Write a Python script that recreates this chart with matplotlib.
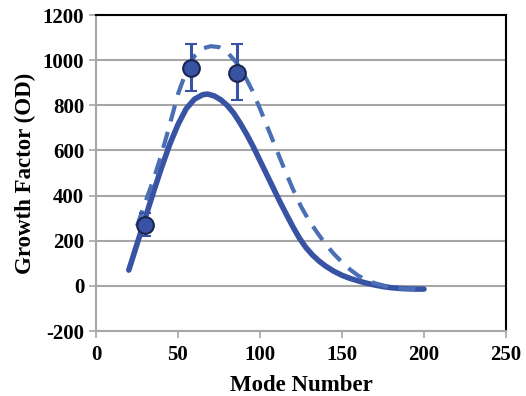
import matplotlib.pyplot as plt

# solid curve (model)
x_solid = [20, 25, 30, 35, 40, 45, 50, 55, 60, 65, 68, 72, 76, 80, 84, 88, 92, 96,
           100, 104, 108, 112, 116, 120, 124, 128, 132, 136, 140, 145, 150, 155,
           160, 165, 170, 175, 180, 185, 190, 195, 200]
y_solid = [70, 185, 300, 415, 525, 628, 715, 785, 827, 847, 850, 842, 825, 800, 765,
           720, 670, 615, 555, 495, 435, 375, 318, 263, 212, 170, 137, 110, 88, 65,
           47, 33, 22, 12, 4, -3, -8, -11, -13, -14, -14]

# dashed curve
x_dash = [25, 30, 35, 40, 45, 50, 55, 60, 65, 70, 75, 80, 85, 90, 95, 100, 105, 110,
          115, 120, 125, 130, 135, 140, 145, 150, 155, 160, 165, 170, 175, 180, 185,
          190, 200]
y_dash = [265, 370, 470, 585, 715, 850, 950, 1018, 1052, 1062, 1058, 1035, 995, 940,
          870, 785, 695, 605, 515, 430, 352, 288, 235, 185, 142, 105, 72, 45, 25, 12,
          2, -6, -11, -13, -14]

# measured points
x_pts = [30, 58, 86]
y_pts = [270, 965, 945]
err_lo = [50, 100, 120]
err_hi = [55, 105, 125]

plt.rcParams['font.family'] = ['Liberation Serif', 'DejaVu Serif']
plt.rcParams['font.weight'] = 'bold'
plt.rcParams['axes.unicode_minus'] = False

fig = plt.figure(figsize=(5.26, 3.96), dpi=100)
ax = fig.add_axes([0.1825, 0.164, 0.7795, 0.798])

ax.plot(x_solid, y_solid, color='#3953A4', lw=4, solid_capstyle='round', zorder=3)
ax.plot(x_dash, y_dash, color='#4A6FB5', lw=3, dashes=(4, 2.6), zorder=3)
ax.errorbar(x_pts, y_pts, yerr=[err_lo, err_hi], fmt='o', color='#3953A4',
            ms=12, mfc='#3953A4', mec='#1a2550', mew=1.5, ecolor='#3953A4',
            elinewidth=2.2, capsize=4, capthick=2.2, zorder=4)

ax.set_xlim(0, 250)
ax.set_ylim(-200, 1200)
ax.set_xticks(range(0, 251, 50))
ax.set_yticks(range(-200, 1201, 200))
ax.yaxis.grid(True, color='#A6A6A6', lw=1.5)
ax.set_axisbelow(True)

for s in ['left', 'bottom']:
    ax.spines[s].set_color('#A6A6A6')
    ax.spines[s].set_linewidth(1.5)
for s in ['top', 'right']:
    ax.spines[s].set_color('black')
    ax.spines[s].set_linewidth(1.5)

ax.tick_params(axis='both', colors='#A6A6A6', width=1.2, length=5,
               labelcolor='black', labelsize=15)
ax.tick_params(axis='x', pad=5)
ax.set_xlabel('Mode Number', fontsize=16.5, fontweight='bold', labelpad=7)
ax.set_ylabel('Growth Factor (OD)', fontsize=16.5, fontweight='bold', labelpad=5)

fig.savefig('out.png', dpi=100)
